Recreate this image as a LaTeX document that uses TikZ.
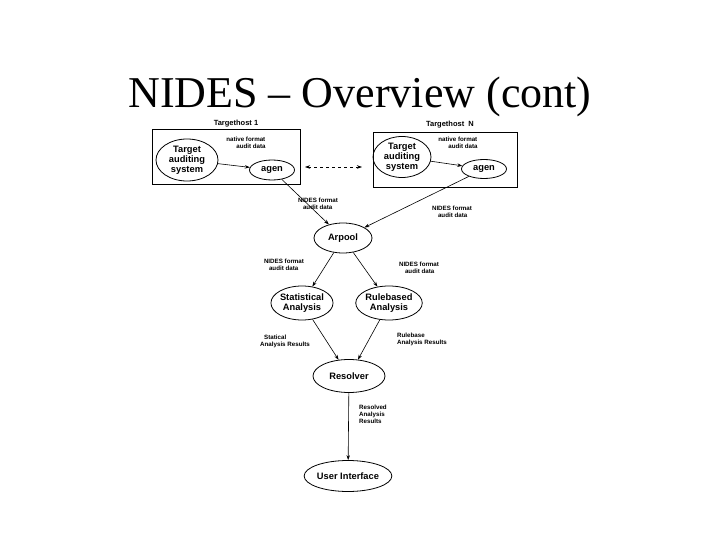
\documentclass[tikz,border=0pt]{standalone}
\usepackage{fontspec}
\setmainfont{Liberation Serif}
\setsansfont{Liberation Sans}
\usetikzlibrary{shapes.geometric,arrows.meta}
\begin{document}
\begin{tikzpicture}[x=1pt,y=-1pt,
  ell/.style={draw,thick,ellipse,inner sep=0pt,font=\sffamily\bfseries\fontsize{9.3}{10}\selectfont,align=center},
  lbl/.style={font=\sffamily\bfseries\fontsize{6.2}{7}\selectfont,align=left,inner sep=0pt},
  hostlbl/.style={font=\sffamily\bfseries\fontsize{7.5}{8}\selectfont,inner sep=0pt},
  con/.style={-{Stealth[length=5pt,width=3.5pt]},semithick},
  hostbox/.style={draw,thick}]
\useasboundingbox (0,0) rectangle (720,540);
\node[font=\fontsize{44}{48}\selectfont] (title) at (360,97) {NIDES -- Overview (cont)};
% host 1
\draw[hostbox] (152,129) rectangle (300,184);
\node[hostlbl] (h1) at (236,124) {Targethost 1};
\node[ell,minimum width=62,minimum height=42] (tas1) at (187,160) {Target\\auditing\\system};
\node[ell,minimum width=45,minimum height=20] (agen1) at (272,170) {agen};
\node[lbl] (nf1) at (246,143) {native format\\\hspace*{10pt}audit data};
\draw[con] (tas1) -- (agen1);
% host N
\draw[hostbox] (373,132) rectangle (517,187);
\node[hostlbl] (hn) at (450,125) {Targethost\ \ N};
\node[ell,minimum width=58,minimum height=41] (tasn) at (402,157) {Target\\auditing\\system};
\node[ell,minimum width=45,minimum height=19] (agenn) at (484,169) {agen};
\node[lbl] (nfn) at (458,143) {native format\\\hspace*{10pt}audit data};
\draw[con] (tasn) -- (agenn);
% dashed link
\coordinate (dl) at (305,167);
\coordinate (dr) at (362,167);
\draw[{Stealth[length=5pt,width=3.5pt]}-{Stealth[length=5pt,width=3.5pt]},semithick,dashed] (dl) -- (dr);
% Arpool
\node[ell,minimum width=58,minimum height=30] (arpool) at (343,238) {Arpool};
\draw[con] (agen1) -- (arpool);
\draw[con] (agenn) -- (arpool);
\node[lbl] (l1) at (318,204) {NIDES format\\\hspace*{5pt}audit data};
\node[lbl] (l2) at (452,212) {NIDES format\\\hspace*{6pt}audit data};
% analyses
\node[ell,minimum width=57,minimum height=34] (stat) at (302,303) {Statistical\\Analysis};
\node[ell,minimum width=55,minimum height=34] (rule) at (389,303) {Rulebased\\Analysis};
\draw[con] (arpool) -- (stat);
\draw[con] (arpool) -- (rule);
\node[lbl] (l3) at (284,265) {NIDES format\\\hspace*{5pt}audit data};
\node[lbl] (l4) at (419,268) {NIDES format\\\hspace*{6pt}audit data};
% resolver
\node[ell,minimum width=72,minimum height=33] (res) at (349,376) {Resolver};
\draw[con] (stat) -- (res);
\draw[con] (rule) -- (res);
\node[lbl] (l5) at (285,341) {\hspace*{4pt}Statical\\Analysis Results};
\node[lbl] (l6) at (422,339) {Rulebase\\Analysis Results};
% user interface
\node[ell,minimum width=77,minimum height=31] (ui) at (348,476) {User Interface};
\draw[con] (res) -- (ui);
\node[lbl] (l7) at (373,414) {Resolved\\Analysis\\Results};
\end{tikzpicture}
\end{document}
